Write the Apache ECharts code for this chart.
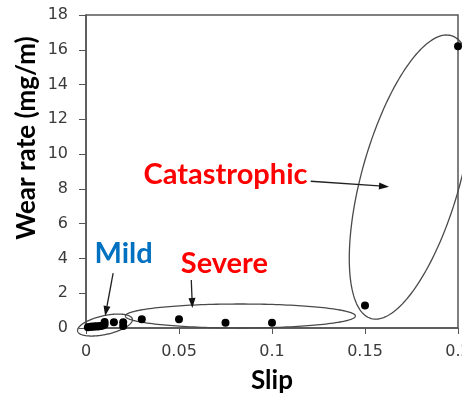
<!DOCTYPE html>
<html><head><meta charset="utf-8">
<script src="https://cdn.jsdelivr.net/npm/echarts@6/dist/echarts.min.js"></script>
<style>html,body{margin:0;padding:0;background:#fff;overflow:hidden}#c{width:462px;height:395px}</style>
</head><body><div id="c"></div>
<script>
// ---- data ----
const slip = [0.001, 0.002, 0.003, 0.004, 0.005, 0.006, 0.007, 0.008, 0.009, 0.010, 0.010, 0.015, 0.020, 0.020, 0.030, 0.050, 0.075, 0.100, 0.150, 0.200];
const wear = [0.05, 0.06, 0.08, 0.07, 0.10, 0.08, 0.10, 0.12, 0.15, 0.20, 0.35, 0.33, 0.33, 0.12, 0.50, 0.50, 0.30, 0.30, 1.30, 16.2];
const xTicks = [0, 0.05, 0.1, 0.15, 0.2];
const yTicks = [0, 2, 4, 6, 8, 10, 12, 14, 16, 18];
const regimes = ['Mild', 'Severe', 'Catastrophic'];
const regimeLabelAt = [[0.0202, 4.28], [0.0744, 3.68], [0.0750, 8.80]];
const arrowFrom = [[0.0146, 3.16], [0.0566, 2.76], [0.1208, 8.44]];
const arrowTo = [[0.0103, 0.69], [0.0572, 1.15], [0.1629, 8.13]];
const ellipseCenter = [[0.0102, 0.17], [0.0830, 0.69], [0.1748, 8.68]];

// ---- styles ----
const regimeColor = ['#0070C0', '#FF0000', '#FF0000'];
const ellipseShape = [ // semi-axes in px, rotation in degrees (counter-clockwise)
  {a: 28, b: 9.4, rot: 12.5},
  {a: 115, b: 12, rot: 0},
  {a: 147, b: 49, rot: 74.2}
];
const FONT = 'Lato';

const chart = echarts.init(document.getElementById('c'), null, {renderer: 'canvas'});

function renderRegime(params, api) {
  const i = api.value(0);
  const group = [];
  const c = api.coord(ellipseCenter[i]);
  const e = ellipseShape[i];
  const phi = e.rot * Math.PI / 180;
  const pts = [];
  for (let k = 0; k < 180; k++) {
    const t = k / 180 * Math.PI * 2;
    const ex = e.a * Math.cos(t), ey = e.b * Math.sin(t);
    pts.push([c[0] + ex * Math.cos(phi) - ey * Math.sin(phi), c[1] - (ex * Math.sin(phi) + ey * Math.cos(phi))]);
  }
  group.push({type: 'polygon', shape: {points: pts}, style: {fill: 'none', stroke: '#4a4a4a', lineWidth: 1.3}});
  const p0 = api.coord(arrowFrom[i]);
  const p1 = api.coord(arrowTo[i]);
  const dx = p1[0] - p0[0], dy = p1[1] - p0[1];
  const len = Math.sqrt(dx * dx + dy * dy);
  const ux = dx / len, uy = dy / len;
  const L = 10, W = 7;
  const bx = p1[0] - ux * L, by = p1[1] - uy * L;
  group.push({type: 'line', shape: {x1: p0[0], y1: p0[1], x2: bx, y2: by}, style: {stroke: '#222', lineWidth: 1.3}});
  group.push({type: 'polygon', shape: {points: [[p1[0], p1[1]], [bx - uy * W / 2, by + ux * W / 2], [bx + uy * W / 2, by - ux * W / 2]]}, style: {fill: '#111'}});
  const lp = api.coord(regimeLabelAt[i]);
  group.push({type: 'text', x: lp[0], y: lp[1], style: {text: regimes[i], fill: regimeColor[i], fontFamily: FONT, fontWeight: 'bold', fontSize: 29, align: 'center', verticalAlign: 'middle'}});
  return {type: 'group', children: group};
}

const option = {
  backgroundColor: '#fff',
  animation: false,
  grid: {left: 86, right: 4, top: 15, bottom: 67, containLabel: false, outerBoundsMode: 'none', show: true, borderColor: '#555', borderWidth: 1.5, backgroundColor: 'transparent'},
  xAxis: {
    type: 'value', min: xTicks[0], max: xTicks[xTicks.length - 1], interval: xTicks[1] - xTicks[0],
    name: 'Slip', nameLocation: 'middle', nameGap: 40,
    nameTextStyle: {fontFamily: FONT, fontWeight: 'bold', fontSize: 26, color: '#000'},
    axisLine: {show: true, lineStyle: {color: '#555', width: 1.5}},
    axisTick: {show: true, inside: false, length: 6, lineStyle: {color: '#555'}},
    axisLabel: {margin: 16, fontFamily: 'DejaVu Sans', fontSize: 16, color: '#3a3a3a', formatter: v => String(v)},
    splitLine: {show: false}
  },
  yAxis: {
    type: 'value', min: yTicks[0], max: yTicks[yTicks.length - 1], interval: yTicks[1] - yTicks[0],
    axisLine: {show: true, lineStyle: {color: '#555', width: 1.5}},
    axisTick: {show: true, inside: false, length: 7, lineStyle: {color: '#555'}},
    axisLabel: {margin: 18, fontFamily: 'DejaVu Sans', fontSize: 16, color: '#3a3a3a'},
    splitLine: {show: false}
  },
  graphic: [{
    type: 'text', x: 27, y: 138, rotation: Math.PI / 2,
    style: {text: 'Wear rate (mg/m)', fontFamily: FONT, fontWeight: 'bold', fontSize: 26, fill: '#000', align: 'center', verticalAlign: 'middle'}
  }],
  series: [
    {
      type: 'custom', clip: false, silent: true, z: 3,
      data: regimes.map((_, i) => [i]),
      renderItem: renderRegime
    },
    {
      type: 'scatter', clip: false, z: 5, symbol: 'circle', symbolSize: 8,
      itemStyle: {color: '#000', opacity: 1},
      data: slip.map((s, i) => [s, wear[i]])
    }
  ]
};
chart.setOption(option);
</script>
</body></html>
